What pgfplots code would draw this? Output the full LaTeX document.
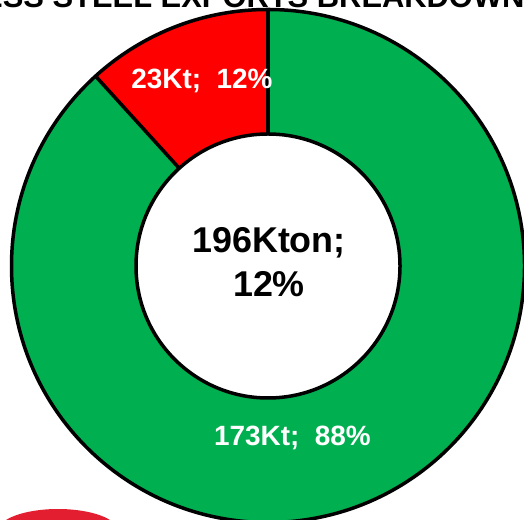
\documentclass[border=0pt]{standalone}
\usepackage{fontspec}
\setmainfont{Liberation Sans}
\usepackage{pgfplots}
\usepackage{pgfplotstable}
\pgfplotsset{compat=1.18}
\definecolor{dgreen}{HTML}{00B050}
\definecolor{logored}{HTML}{E31E30}

\pgfplotstableread{
label value
Red 23
Green 173
}\donutdata
\pgfplotstablegetelem{0}{value}\of\donutdata
\let\vA\pgfplotsretval
\pgfplotstablegetelem{1}{value}\of\donutdata
\let\vB\pgfplotsretval
\pgfmathsetmacro\tot{\vA+\vB}
\pgfmathsetmacro\angA{90+360*\vA/\tot}
\def\Ro{256.5bp}
\def\Ri{132bp}

\begin{document}%
\begin{tikzpicture}[x=1bp,y=1bp]
\clip (0,0) rectangle (524,520);
\begin{pgfinterruptboundingbox}
\begin{axis}[
  at={(0,0)}, anchor=south west,
  scale only axis, width=524bp, height=520bp,
  xmin=0, xmax=524, ymin=0, ymax=520,
  hide axis, clip=false]
\addplot[draw=none] coordinates {(0,0) (524,520)};
\begin{scope}[shift={(axis cs:268,254)}]
  % red sector
  \fill[red] (90:\Ro) arc[start angle=90, end angle=\angA, radius=\Ro]
     -- (\angA:\Ri) arc[start angle=\angA, end angle=90, radius=\Ri] -- cycle;
  % green sector
  \fill[dgreen] (\angA:\Ro) arc[start angle=\angA, end angle=450, radius=\Ro]
     -- (90:\Ri) arc[start angle=450, end angle=\angA, radius=\Ri] -- cycle;
  \draw[black, line width=3.5bp] (0,0) circle[radius=\Ro];
  \draw[black, line width=3.5bp] (0,0) circle[radius=\Ri];
  \draw[black, line width=3.5bp] (90:\Ri) -- (90:\Ro);
  \draw[black, line width=3.5bp] (\angA:\Ri) -- (\angA:\Ro);
\end{scope}
\node[text=white, font=\bfseries\fontsize{28}{30}\selectfont] at (axis cs:202,439) {23Kt;\ \ 12\%};
\node[text=white, font=\bfseries\fontsize{28}{30}\selectfont] at (axis cs:292.5,82.5) {173Kt;\ \ 88\%};
\node[text=black, align=center, font=\bfseries\fontsize{36}{44}\selectfont] at (axis cs:269,258) {196Kton;\\12\%};
\node[anchor=base east, font=\bfseries\fontsize{31}{33}\selectfont] at (axis cs:528,512) {STAINLESS STEEL EXPORTS BREAKDOWN};
\fill[logored] (axis cs:58,-11) ellipse[x radius=60bp, y radius=22bp];
\end{axis}
\end{pgfinterruptboundingbox}
\end{tikzpicture}%
\end{document}
